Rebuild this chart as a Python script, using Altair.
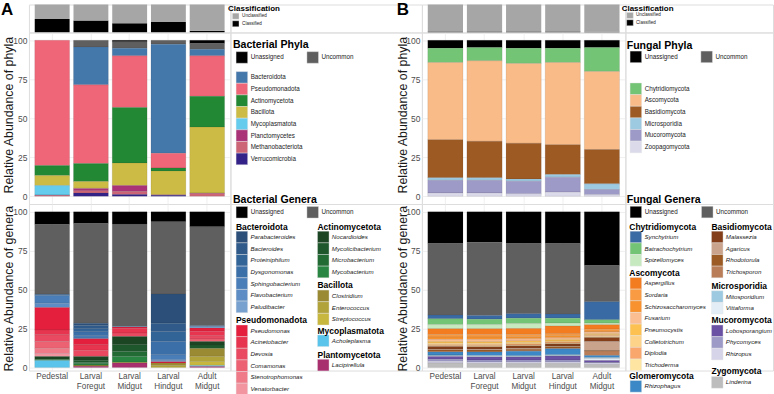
import altair as alt
import pandas as pd

FONT = "Liberation Sans"

SAMPLES = ["Pedestal", "Larval\nForegut", "Larval\nMidgut", "Larval\nHindgut", "Adult\nMidgut"]

# ---------------- classification (percent classified) ----------------
CLASS_LEVELS = ["Unclassified", "Classified"]
CLASS_COLORS = ["#a6a6a6", "#000000"]
BACT_CLASSIFIED = [48, 43, 33, 37, 6]
FUNG_CLASSIFIED = [3, 3, 3, 3, 2]

# ---------------- bacterial phyla ----------------
BACT_PHYLA = ["Unassigned", "Uncommon", "Bacteroidota", "Pseudomonadota", "Actinomycetota",
              "Bacillota", "Mycoplasmatota", "Planctomycetes", "Methanobacteriota", "Verrucomicrobia"]
BACT_PHYLA_COLORS = ["#000000", "#5f5f5f", "#4477aa", "#ee6677", "#228833",
                     "#ccbb44", "#66ccee", "#aa3377", "#cc6677", "#332288"]
BACT_PHYLA_VALUES = [
    [0, 0, 1.0, 0, 2.1],
    [0, 4.3, 4.1, 2.5, 3.7],
    [0, 24.3, 4.9, 69.9, 4.2],
    [80.4, 50.5, 33.1, 9.4, 26.0],
    [6.4, 11.5, 35.6, 1.9, 19.7],
    [6.4, 4.4, 14.5, 15.3, 42.2],
    [6.0, 0, 0, 0, 0],
    [0.3, 1.5, 3.8, 0, 0.4],
    [0.5, 1.5, 1.9, 0.3, 1.7],
    [0, 2.0, 1.1, 0.6, 0],
]

# ---------------- bacterial genera ----------------
BACT_GROUPS = ["Bacteroidota", "Pseudomonadota", "Actinomycetota", "Bacillota", "Mycoplasmatota", "Plantomycetota"]
BACT_GROUP_GENERA = [
    ["Parabacteroides", "Bacteroides", "Proteiniphilum", "Dysgonomonas", "Sphingobacterium", "Flavobacterium", "Paludibacter"],
    ["Pseudomonas", "Acinetobacter", "Devosia", "Comamonas", "Stenotrophomonas", "Venatorbacter"],
    ["Nocardioides", "Mycolicibacterium", "Microbacterium", "Mycobacterium"],
    ["Clostridium", "Enterococcus", "Streptococcus"],
    ["Acholeplasma"],
    ["Lacipirellula"],
]
BACT_GROUP_COLORS = [
    ["#2b4f78", "#2f5a89", "#336498", "#3a6fa8", "#4a7eb8", "#5d8dc4", "#78a1d0"],
    ["#e41f3d", "#e8354f", "#ea4a61", "#ec6273", "#ef7b89", "#f394a1"],
    ["#1b4523", "#1e572b", "#226b34", "#298642"],
    ["#9a8a33", "#b1a23a", "#c8b73f"],
    ["#5bc4ea"],
    ["#a8306f"],
]
BACT_GENERA_VALUES = [
    [8.1, 7.5, 7.9, 6.4, 9.6],       # Unassigned
    [44.9, 64.1, 65.8, 46.4, 63.7],  # Uncommon
    [0, 1.5, 0, 18.8, 0],
    [0.8, 2.0, 0, 5.3, 0],
    [0, 2.0, 0, 6.4, 0],
    [0, 2.5, 0, 8.6, 0],
    [4.9, 1.5, 0, 3.2, 0.5],
    [2.8, 0.5, 0.3, 0.6, 0.5],
    [0, 0, 0, 0.6, 0.5],
    [14.3, 3.9, 0.8, 0.8, 2.0],
    [3.2, 3.5, 3.0, 0, 3.0],
    [4.3, 3.9, 2.3, 0, 2.0],
    [4.3, 0, 0, 0, 1.6],
    [3.4, 0, 0, 0, 0],
    [1.9, 0, 0, 0, 0],
    [1.9, 2.5, 5.3, 0, 2.2],
    [0, 1.5, 4.3, 0, 2.3],
    [0, 0.8, 3.2, 0, 0],
    [0.6, 0.8, 3.6, 0, 0],
    [0, 0.5, 0.6, 1.7, 5.1],
    [0, 0.3, 0, 1.2, 3.3],
    [0, 0, 0, 0, 2.5],
    [4.5, 0, 0, 0, 0.7],
    [0, 0.7, 2.8, 0, 0.6],
]

# ---------------- fungal phyla ----------------
FUNG_PHYLA = ["Unassigned", "Uncommon", "Chytridiomycota", "Ascomycota", "Basidiomycota",
              "Microsporidia", "Mucoromycota", "Zoopagomycota"]
FUNG_PHYLA_COLORS = ["#000000", "#5f5f5f", "#74c476", "#f9bb87", "#9e5a23",
                     "#9ecae1", "#9e9ac8", "#dadaeb"]
FUNG_PHYLA_VALUES = [
    [5.1, 4.7, 5.1, 5.1, 4.7],
    [0, 0, 0, 0, 0],
    [9.2, 8.5, 9.8, 9.2, 15.3],
    [49.5, 51.6, 51.2, 52.7, 50.1],
    [24.3, 23.3, 22.8, 19.1, 22.0],
    [1.7, 1.7, 1.5, 1.7, 3.6],
    [8.1, 8.1, 8.1, 9.6, 3.2],
    [2.1, 2.1, 1.5, 2.6, 1.1],
]

# ---------------- fungal genera ----------------
FUNG_GROUPS = ["Chytridiomycota", "Ascomycota", "Basidiomycota", "Glomeromycota",
               "Microsporidia", "Mucoromycota", "Zygomycota"]
FUNG_GROUP_GENERA = [
    ["Synchytrium", "Batrachochytrium", "Spizellomyces"],
    ["Aspergillus", "Sordaria", "Schizosaccharomyces", "Fusarium", "Pneumocystis",
     "Colletotrichum", "Diplodia", "Trichoderma"],
    ["Malassezia", "Agaricus", "Rhodotorula", "Trichosporon"],
    ["Rhizophagus"],
    ["Mitosporidium", "Vittaforma"],
    ["Lobosporangium", "Phycomyces", "Rhizopus"],
    ["Linderina"],
]
FUNG_GROUP_COLORS = [
    ["#3a6aa3", "#74c476", "#c7e9c0"],
    ["#f47c20", "#f99b43", "#f7922e", "#fbbe93", "#fdc151", "#fdd38a", "#f9a76c", "#fee6a2"],
    ["#843f1a", "#c9a38b", "#9c5a25", "#b97e57"],
    ["#3c87c6"],
    ["#9ecae1", "#e3edf6"],
    ["#6a51a3", "#9e9ac8", "#d6d4e8"],
    ["#bdbdbd"],
]
FUNG_GENERA_VALUES = [
    [20.3, 19.5, 20.5, 20.5, 34.6],  # Unassigned
    [46.0, 46.9, 45.5, 45.5, 23.4],  # Uncommon
    [2.3, 2.3, 2.9, 2.6, 11.6],
    [3.8, 3.5, 3.5, 3.2, 2.2],
    [2.6, 2.6, 3.2, 1.9, 1.0],
    [3.8, 3.8, 3.8, 5.0, 2.9],
    [1.6, 1.6, 1.6, 1.3, 1.3],
    [1.6, 1.6, 1.3, 1.3, 0.6],
    [1.3, 1.3, 1.3, 1.0, 1.0],
    [1.0, 1.0, 1.0, 1.0, 0.6],
    [1.0, 1.0, 1.0, 0.7, 0.6],
    [0.6, 0.6, 0.6, 0.6, 0.6],
    [0.6, 0.6, 0.6, 0.6, 0.6],
    [1.6, 1.6, 1.6, 1.3, 2.6],
    [0.6, 0.6, 0.6, 0.6, 5.8],
    [1.0, 1.0, 1.0, 1.0, 0.3],
    [0.3, 0.3, 0.3, 0.3, 2.9],
    [1.9, 2.2, 2.9, 3.8, 1.3],
    [0.6, 0.6, 0.6, 0.6, 0.6],
    [0.3, 0.3, 0.3, 0.3, 1.3],
    [1.9, 1.9, 1.9, 2.5, 1.3],
    [1.3, 1.3, 1.3, 1.3, 0.3],
    [1.0, 1.0, 1.0, 1.0, 1.0],
    [2.9, 2.5, 2.5, 2.5, 1.9],
]

# ======================================================================
def flat(groups_genera, groups_colors):
    names = ["Unassigned", "Uncommon"]
    cols = ["#000000", "#5f5f5f"]
    for g, c in zip(groups_genera, groups_colors):
        names += g
        cols += c
    return names, cols


def long_df(cats, colors, values):
    rows = []
    n = len(cats)
    for i, (c, col, vals) in enumerate(zip(cats, colors, values)):
        for s, v in zip(SAMPLES, vals):
            if v > 0:
                rows.append({"sample": s, "cat": c, "col": col, "value": v, "rank": n - i})
    return pd.DataFrame(rows)


def class_df(classified):
    rows = []
    for s, v in zip(SAMPLES, classified):
        rows.append({"sample": s, "cat": "Classified", "col": CLASS_COLORS[1], "value": v, "rank": 0})
        rows.append({"sample": s, "cat": "Unclassified", "col": CLASS_COLORS[0], "value": 100 - v, "rank": 1})
    return pd.DataFrame(rows)


GRID = "#ebebeb"


def xenc(show_labels, grid=True):
    return alt.X(
        "sample:N", sort=SAMPLES,
        scale=alt.Scale(domain=SAMPLES, paddingInner=0.1, paddingOuter=0.15),
        axis=alt.Axis(title=None, labels=show_labels, ticks=False, domain=False, grid=grid,
                      gridColor=GRID, gridWidth=0.8, bandPosition=0.5, labelAngle=0,
                      labelFontSize=8.2, labelColor="#4d4d4d", labelPadding=2,
                      labelBaseline="top", labelLineHeight=9.6, labelFont=FONT,
                      labelExpr="split(datum.label, '\\n')"),
    )


def panel(df, width, height, ydom, ytitle, title_x, title_y, show_x):
    y_axis = alt.Axis(values=[0, 0.25, 0.5, 0.75, 1], labelExpr="round(datum.value*100)",
                      ticks=False, domain=False, grid=True, gridColor=GRID, gridWidth=0.8,
                      labelFontSize=8.5, labelColor="#4d4d4d", labelPadding=2, labelFont=FONT,
                      title=ytitle, titleFontSize=12.4, titleFontWeight="normal",
                      titleColor="#1a1a1a", titleFont=FONT, titleX=title_x, titleY=title_y,
                      titleAngle=270, titleAlign="center", titleBaseline="alphabetic")
    return alt.Chart(df).mark_bar(stroke="#333333", strokeWidth=0.2, strokeOpacity=0.5).encode(
        x=xenc(show_x),
        y=alt.Y("value:Q", stack="normalize", scale=alt.Scale(domain=ydom, nice=False, zero=False),
                axis=y_axis),
        color=alt.Color("col:N", scale=None),
        order=alt.Order("rank:Q", sort="ascending"),
        tooltip=["cat:N", "value:Q"],
    ).properties(width=width, height=height)


def class_panel(df, width, height, letter, letter_x):
    bars = alt.Chart(df).mark_bar().encode(
        x=alt.X("sample:N", sort=SAMPLES,
                scale=alt.Scale(domain=SAMPLES, paddingInner=0.1, paddingOuter=0.15), axis=None),
        y=alt.Y("value:Q", stack="normalize", scale=alt.Scale(domain=[0, 1], nice=False), axis=None),
        color=alt.Color("col:N", scale=None),
        order=alt.Order("rank:Q", sort="ascending"),
    )
    lt = alt.Chart(pd.DataFrame({"t": [letter]})).mark_text(
        align="left", baseline="top", fontSize=17, fontWeight="bold", font=FONT, color="#000000"
    ).encode(text="t:N", x=alt.value(letter_x), y=alt.value(-2))
    return alt.layer(bars, lt).properties(width=width, height=height)


# ---------------- legends ----------------
KEY = 11.67
KW = 11.6

STYLES = {
    "cls_title": dict(fontSize=8, fontWeight="bold", baseline="alphabetic", color="#000000"),
    "cls_item": dict(fontSize=4.6, baseline="middle", color="#222222"),
    "h1": dict(fontSize=10.6, fontWeight="bold", baseline="alphabetic", color="#000000"),
    "h2": dict(fontSize=8.5, fontWeight="bold", baseline="alphabetic", color="#000000"),
    "item": dict(fontSize=6.3, baseline="middle", color="#222222"),
    "item_it": dict(fontSize=6.2, fontStyle="italic", baseline="middle", color="#222222"),
}


class Block:
    def __init__(self):
        self.rects, self.texts = [], []

    def rect(self, x, y, w, h, c):
        self.rects.append({"lx": x, "lx2": x + w, "ly": y, "ly2": y + h, "c": c})

    def text(self, x, y, t, style):
        self.texts.append({"lx": x, "ly": y, "t": t, "s": style})


def cls_block(tx, tb, sx, sys_, s_txt):
    b = Block()
    b.text(tx, tb, "Classification", "cls_title")
    for lvl, col, sy in zip(CLASS_LEVELS, CLASS_COLORS, sys_):
        b.rect(sx, sy, 6.6, 6.0, col)
        b.text(s_txt, sy + 3.0, lvl, "cls_item")
    return b


def phyla_block(title, hx, hb, ua_y, ua_sx, uc_sx, list_sx, list_top, names, cols):
    b = Block()
    b.text(hx, hb, title, "h1")
    b.rect(ua_sx, ua_y, KW, KW, cols[0]); b.text(ua_sx + 14.6, ua_y + KW / 2, names[0], "item")
    b.rect(uc_sx, ua_y, KW, KW, cols[1]); b.text(uc_sx + 14.6, ua_y + KW / 2, names[1], "item")
    for i, (n, c) in enumerate(zip(names[2:], cols[2:])):
        y = list_top + i * KEY
        b.rect(list_sx, y, KW, KEY, c)
        b.text(list_sx + 14.6, y + KEY / 2, n, "item")
    return b


def genera_block(title, hx, hb, ua_y, ua_sx, uc_sx, groups):
    b = Block()
    b.text(hx, hb, title, "h1")
    b.rect(ua_sx, ua_y, KW, KW, "#000000"); b.text(ua_sx + 14.6, ua_y + KW / 2, "Unassigned", "item")
    b.rect(uc_sx, ua_y, KW, KW, "#5f5f5f"); b.text(uc_sx + 14.6, ua_y + KW / 2, "Uncommon", "item")
    for gname, ghx, gcap, gsx, gtop, gnames, gcols in groups:
        b.text(ghx, gcap + 6.1, gname, "h2")
        for i, (n, c) in enumerate(zip(gnames, gcols)):
            y = gtop + i * KEY
            b.rect(gsx, y, KW, KEY, c)
            b.text(gsx + 14.4, y + KEY / 2, n, "item_it")
    return b


def legend_cell(block, x0, width, y0, y1):
    xs = alt.Scale(domain=[x0, x0 + width], nice=False, zero=False)
    ys = alt.Scale(domain=[y0, y1], reverse=True, nice=False, zero=False)
    rdf = pd.DataFrame(block.rects)
    tdf = pd.DataFrame(block.texts)
    layers = [
        alt.Chart(rdf).mark_rect(stroke="#e6e6e6", strokeWidth=0.4).encode(
            x=alt.X("lx:Q", scale=xs, axis=None), x2="lx2:Q",
            y=alt.Y("ly:Q", scale=ys, axis=None), y2="ly2:Q",
            color=alt.Color("c:N", scale=None))
    ]
    for sname, sprops in STYLES.items():
        sub = tdf[tdf["s"] == sname]
        if len(sub) == 0:
            continue
        layers.append(alt.Chart(sub).mark_text(align="left", font=FONT, **sprops).encode(
            x=alt.X("lx:Q", scale=xs, axis=None),
            y=alt.Y("ly:Q", scale=ys, axis=None),
            text="t:N"))
    return alt.layer(*layers).properties(width=width, height=y1 - y0)


# ======================================================================
bact_gen_names, bact_gen_cols = flat(BACT_GROUP_GENERA, BACT_GROUP_COLORS)
fung_gen_names, fung_gen_cols = flat(FUNG_GROUP_GENERA, FUNG_GROUP_COLORS)

PH_DOM = [-0.05, 1.05]
GE_DOM = [-0.02, 1.05]
TOP = 2
CL_H = 28
PH_H = 172
GE_H = 167
R1 = (TOP, TOP + CL_H)
R2 = (R1[1], R1[1] + PH_H)
R3 = (R2[1], R2[1] + GE_H)

A_X0, A_W = 28, 202
LA_X0, LA_W = 230, 192
B_X0, B_W = 422, 204
LB_X0, LB_W = 626, 148

# ---- panel A
classA = class_panel(class_df(BACT_CLASSIFIED), A_W, CL_H, "A", -28)
phylaA = panel(long_df(BACT_PHYLA, BACT_PHYLA_COLORS, BACT_PHYLA_VALUES), A_W, PH_H, PH_DOM,
               "Relative Abundance of phyla", -16.3, 82.5, False)
generaA = panel(long_df(bact_gen_names, bact_gen_cols, BACT_GENERA_VALUES), A_W, GE_H, GE_DOM,
                "Relative Abundance of genera", -16.3, 84.5, True)

# ---- panel B
classB = class_panel(class_df(FUNG_CLASSIFIED), B_W, CL_H, "B", -25.3)
phylaB = panel(long_df(FUNG_PHYLA, FUNG_PHYLA_COLORS, FUNG_PHYLA_VALUES), B_W, PH_H, PH_DOM,
               "Relative Abundance of phyla", -15.3, 82.5, False)
generaB = panel(long_df(fung_gen_names, fung_gen_cols, FUNG_GENERA_VALUES), B_W, GE_H, GE_DOM,
                "Relative Abundance of genera", -15.3, 84.5, True)

# ---- legend A
bg, bc = BACT_GROUP_GENERA, BACT_GROUP_COLORS
legA1 = legend_cell(cls_block(227.7, 8.6, 232.0, [10.7, 18.3], 241.7), LA_X0, LA_W, *R1)
legA2 = legend_cell(phyla_block("Bacterial Phyla", 232.5, 45.9, 49.3, 235.7, 306.7, 235.7, 69.3,
                                BACT_PHYLA, BACT_PHYLA_COLORS), LA_X0, LA_W, *R2)
legA3 = legend_cell(genera_block("Bacterial Genera", 232.5, 200.9, 204.5, 235.7, 306.7, [
    (BACT_GROUPS[0], 235.5, 221.7, 235.7, 229.3, bg[0], bc[0]),
    (BACT_GROUPS[1], 235.5, 315.7, 235.7, 323.3, bg[1], bc[1]),
    (BACT_GROUPS[2], 317.3, 221.7, 317.3, 229.3, bg[2], bc[2]),
    (BACT_GROUPS[3], 317.3, 280.0, 317.3, 288.3, bg[3], bc[3]),
    (BACT_GROUPS[4], 317.3, 326.7, 317.3, 333.3, bg[4], bc[4]),
    (BACT_GROUPS[5], 317.3, 350.3, 317.3, 357.7, bg[5], bc[5]),
]), LA_X0, LA_W, *R3)

# ---- legend B
fg, fc = FUNG_GROUP_GENERA, FUNG_GROUP_COLORS
legB1 = legend_cell(cls_block(622.3, 8.6, 627.3, [10.0, 17.3], 636.7), LB_X0, LB_W, *R1)
legB2 = legend_cell(phyla_block("Fungal Phyla", 627.3, 46.6, 48.7, 630.7, 701.7, 630.7, 80.7,
                                FUNG_PHYLA, FUNG_PHYLA_COLORS), LB_X0, LB_W, *R2)
legB3 = legend_cell(genera_block("Fungal Genera", 627.3, 200.9, 204.3, 630.7, 702.3, [
    (FUNG_GROUPS[0], 629.9, 221.7, 630.7, 229.3, fg[0], fc[0]),
    (FUNG_GROUPS[1], 629.9, 268.5, 630.7, 275.7, fg[1], fc[1]),
    (FUNG_GROUPS[3], 629.9, 371.0, 630.7, 379.0, fg[3], fc[3]),
    (FUNG_GROUPS[2], 712.3, 221.7, 712.3, 229.3, fg[2], fc[2]),
    (FUNG_GROUPS[4], 712.3, 281.0, 712.3, 289.0, fg[4], fc[4]),
    (FUNG_GROUPS[5], 712.3, 315.7, 712.3, 323.3, fg[5], fc[5]),
    (FUNG_GROUPS[6], 712.3, 366.7, 712.3, 375.0, fg[6], fc[6]),
]), LB_X0, LB_W, *R3)

chart = alt.concat(
    classA, legA1, classB, legB1,
    phylaA, legA2, phylaB, legB2,
    generaA, legA3, generaB, legB3,
    columns=4, spacing=0, bounds="flush",
).resolve_scale(
    x="independent", y="independent"
).properties(padding=0, background="#ffffff").configure_view(stroke=None).configure(font=FONT)

chart.save("out.html", embed_options={"renderer": "svg", "actions": False})
